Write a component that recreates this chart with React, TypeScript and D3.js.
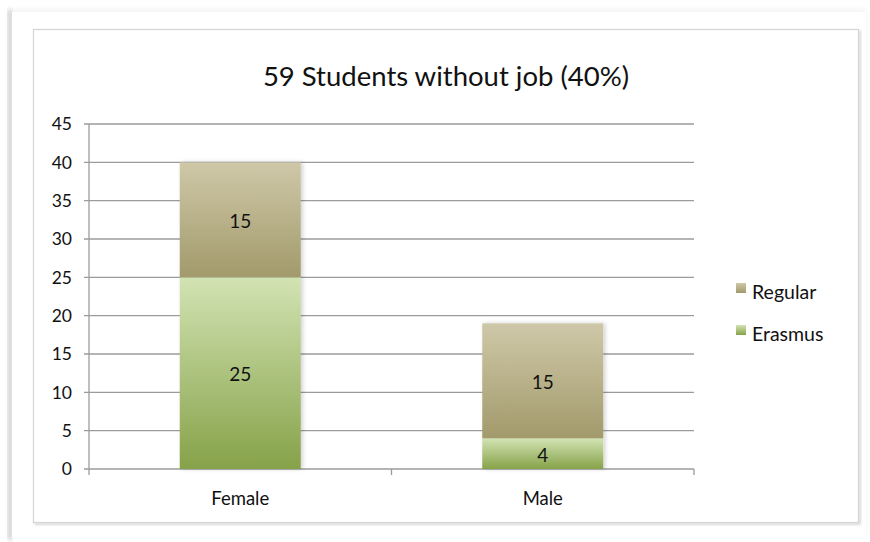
import React from "react";
import * as d3 from "d3";

const categories = ["Female", "Male"];
const erasmus = [25, 4];
const regular = [15, 15];
const seriesNames = ["Erasmus", "Regular"];
const yTicks = [0, 5, 10, 15, 20, 25, 30, 35, 40, 45];
const title = "59 Students without job (40%)";

const W = 870;
const H = 542;
const FONT = "Lato, 'Open Sans', sans-serif";

export default function App() {
  const plot = { left: 89, right: 694, top: 124, bottom: 469 };
  const x = d3.scaleBand<string>().domain(categories).range([plot.left, plot.right]).paddingInner(0.6).paddingOuter(0.3);
  const y = d3.scaleLinear().domain([0, 45]).range([plot.bottom, plot.top]);

  const rows = categories.map((c, i) => ({ cat: c, Erasmus: erasmus[i], Regular: regular[i] }));
  const stacked = d3.stack<any>().keys(seriesNames)(rows);
  const fills: Record<string, string> = { Erasmus: "url(#gE)", Regular: "url(#gR)" };

  const bandStep = (plot.right - plot.left) / categories.length;
  const catTicks = d3.range(categories.length + 1).map((i) => plot.left + i * bandStep);

  return (
    <svg width={W} height={H} style={{ position: "absolute", left: 0, top: 0, background: "#fff" }}>
      <defs>
        <linearGradient id="gR" x1="0" y1="0" x2="0" y2="1">
          <stop offset="0" stopColor="#cfc8a8" />
          <stop offset="1" stopColor="#a29a6b" />
        </linearGradient>
        <linearGradient id="gE" x1="0" y1="0" x2="0" y2="1">
          <stop offset="0" stopColor="#d2e3b3" />
          <stop offset="1" stopColor="#86a249" />
        </linearGradient>
        <filter id="frameShadow" x="-5%" y="-5%" width="110%" height="110%">
          <feGaussianBlur stdDeviation="2.5" />
        </filter>
        <filter id="barShadow" x="-10%" y="-10%" width="130%" height="120%">
          <feDropShadow dx="2" dy="0" stdDeviation="2" floodColor="#000" floodOpacity="0.18" />
        </filter>
        <filter id="boxShadow" x="-5%" y="-5%" width="110%" height="110%">
          <feDropShadow dx="1.5" dy="1.5" stdDeviation="1" floodColor="#000" floodOpacity="0.2" />
        </filter>
      </defs>

      {/* outer page-like frame */}
      <rect x={8} y={9} width={858} height={528} fill="#f4f4f4" filter="url(#frameShadow)" />
      <rect x={8} y={10} width={4} height={530} fill="#c9c9c9" filter="url(#frameShadow)" />
      <rect x={12} y={12} width={854} height={526} fill="#fff" />

      {/* chart area border */}
      <rect x={33.5} y={29.5} width={825} height={493} fill="#fff" stroke="#d4d4d4" strokeWidth={1.2} filter="url(#boxShadow)" />

      {/* title */}
      <text x={446} y={86} textAnchor="middle" fontFamily={FONT} fontSize={27.5} fill="#111">
        {title}
      </text>

      {/* gridlines */}
      {yTicks.map((t) => (
        <line key={"g" + t} x1={plot.left - 5} x2={plot.right} y1={y(t)} y2={y(t)} stroke="#9b9b9b" strokeWidth={1.3} />
      ))}
      {/* y axis */}
      <line x1={plot.left} x2={plot.left} y1={plot.top} y2={plot.bottom} stroke="#9b9b9b" strokeWidth={1.3} />
      {yTicks.map((t) => (
        <text key={"yl" + t} x={72} y={y(t)} dy="0.36em" textAnchor="end" fontFamily={FONT} fontSize={17.5} fill="#111">
          {t}
        </text>
      ))}
      {/* x ticks */}
      {catTicks.map((tx, i) => (
        <line key={"xt" + i} x1={tx} x2={tx} y1={plot.bottom} y2={plot.bottom + 6} stroke="#9b9b9b" strokeWidth={1.3} />
      ))}

      {/* bars */}
      {categories.map((c, i) => (
        <g key={"bar" + c} filter="url(#barShadow)">
          {stacked.map((s) => {
            const d = s[i];
            return (
              <rect
                key={s.key}
                x={x(c)!}
                width={x.bandwidth()}
                y={y(d[1])}
                height={y(d[0]) - y(d[1])}
                fill={fills[s.key]}
              />
            );
          })}
        </g>
      ))}
      {/* data labels */}
      {stacked.map((s) =>
        categories.map((c, i) => {
          const d = s[i];
          const v = d[1] - d[0];
          return (
            <text
              key={"dl" + s.key + c}
              x={x(c)! + x.bandwidth() / 2}
              y={(y(d[0]) + y(d[1])) / 2 + 1}
              dy="0.36em"
              textAnchor="middle"
              fontFamily={FONT}
              fontSize={19}
              fill="#111"
            >
              {v}
            </text>
          );
        })
      )}

      {/* category labels */}
      {categories.map((c) => (
        <text key={"cl" + c} x={x(c)! + x.bandwidth() / 2} y={505} textAnchor="middle" fontFamily={FONT} fontSize={18.5} fill="#111">
          {c}
        </text>
      ))}

      {/* legend */}
      {["Regular", "Erasmus"].map((k, i) => (
        <g key={"lg" + k} transform={`translate(736, ${283 + i * 42})`}>
          <rect x={0} y={0} width={10} height={10} fill={fills[k]} />
          <text x={16} y={16} fontFamily={FONT} fontSize={19.5} fill="#111">
            {k}
          </text>
        </g>
      ))}
    </svg>
  );
}
